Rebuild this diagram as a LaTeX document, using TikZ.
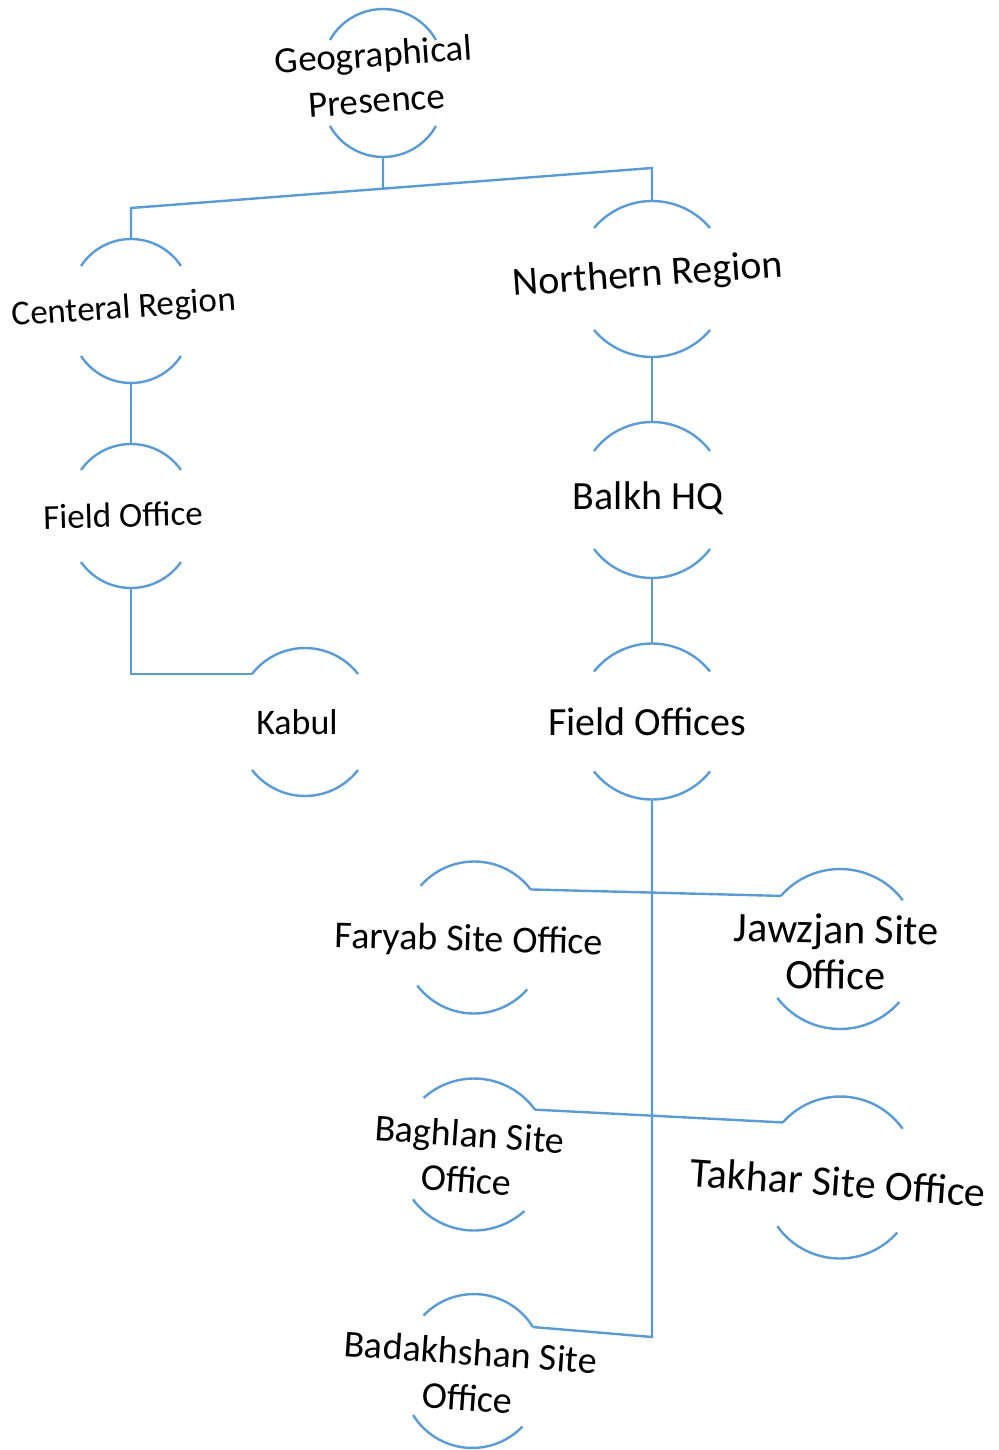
\documentclass[tikz,border=0pt]{standalone}
\usepackage{fontspec}
\setmainfont{Carlito}
\usetikzlibrary{calc}
\definecolor{hubblue}{RGB}{91,155,213}
\tikzset{
	link/.style={draw=hubblue,line width=2.4pt},
	lbl/.style={font=\fontsize{#1}{46}\selectfont,align=center,inner sep=0pt},
	lbl/.default=40,
	pics/hub/.style n args={3}{code={
		\pgfmathsetmacro\hubr{(#1*#1+#3*#3)/(2*#3)}
		\pgfmathsetmacro\huba{asin(#1/\hubr)}
		\draw[link] (-#1,#2) arc[start angle=90+\huba,end angle=90-\huba,radius=\hubr pt];
		\draw[link] (-#1,-#2) arc[start angle=270-\huba,end angle=270+\huba,radius=\hubr pt];
		\coordinate (-n) at (0,#2+#3);
		\coordinate (-s) at (0,-#2-#3);
		\coordinate (-nw) at (-#1,#2);
		\coordinate (-ne) at (#1,#2);
	}}
}
\begin{document}
\begin{tikzpicture}[x=1pt,y=1pt]
	\useasboundingbox (0,0) rectangle (998,-1450);
	\pic (geo) at (383,-83) {hub={53}{43}{31}};
	\pic (cr) at (131,-311) {hub={50}{45}{27}};
	\pic (nr) at (652,-279) {hub={58}{51}{27}};
	\pic (fo) at (131,-516) {hub={50}{46}{26}};
	\pic (kb) at (305,-722) {hub={53}{48}{26}};
	\pic (bk) at (652,-500) {hub={58}{49}{29}};
	\pic (fs) at (652,-721.5) {hub={58}{50}{28}};
	\pic[rotate=-2] (fy) at (474,-937.5) {hub={55}{50}{26}};
	\pic[rotate=-2] (jz) at (840,-949) {hub={61}{51}{29}};
	\pic[rotate=-6] (bg) at (474,-1154.5) {hub={56}{51}{25}};
	\pic[rotate=-3] (tk) at (840,-1177.5) {hub={60}{52}{29}};
	\pic[rotate=-6] (bd) at (473,-1371) {hub={55}{50}{27}};
	\node[lbl=37,rotate=4] (geo-t) at (375,-77) {Geographical\\Presence};
	\node[lbl=35,rotate=4] (cr-t) at (124,-309) {Centeral Region};
	\node[lbl,rotate=4] (nr-t) at (648,-276) {Northern Region};
	\node[lbl=35,rotate=1.5] (fo-t) at (123,-515) {Field Office};
	\node[lbl=36] (kb-t) at (297,-722) {Kabul};
	\node[lbl] (bk-t) at (648,-498) {Balkh HQ};
	\node[lbl] (fs-t) at (647,-722) {Field Offices};
	\node[lbl=38,rotate=-1.5] (fy-t) at (469,-941) {Faryab Site Office};
	\node[lbl=42,rotate=-1] (jz-t) at (836,-952) {Jawzjan Site\\Office};
	\node[lbl=38,rotate=-4] (bg-t) at (468,-1157) {Baghlan Site\\Office};
	\node[lbl=42,rotate=-4] (tk-t) at (838,-1182) {Takhar Site Office};
	\node[lbl=38,rotate=-4] (bd-t) at (469,-1375) {Badakhshan Site\\Office};
	\path (cr-n) ++(0,31) coordinate (lj);
	\path (nr-n) ++(0,33) coordinate (rj);
	\path (geo-s) ++(0,-60) coordinate (geo-d);
	\coordinate (trunk) at (652,-1337);
	\draw[link] (cr-n) -- (lj) -- (rj) -- (nr-n);
	\draw[link] (geo-s) -- (intersection of geo-s--geo-d and lj--rj);
	\draw[link] (cr-s) -- (fo-n);
	\draw[link] (fo-s) |- (kb-nw);
	\draw[link] (nr-s) -- (bk-n);
	\draw[link] (bk-s) -- (fs-n);
	\draw[link] (fs-s) -- (trunk) -- (bd-ne);
	\draw[link] (fy-ne) -- (jz-nw);
	\draw[link] (bg-ne) -- (tk-nw);
\end{tikzpicture}
\end{document}
